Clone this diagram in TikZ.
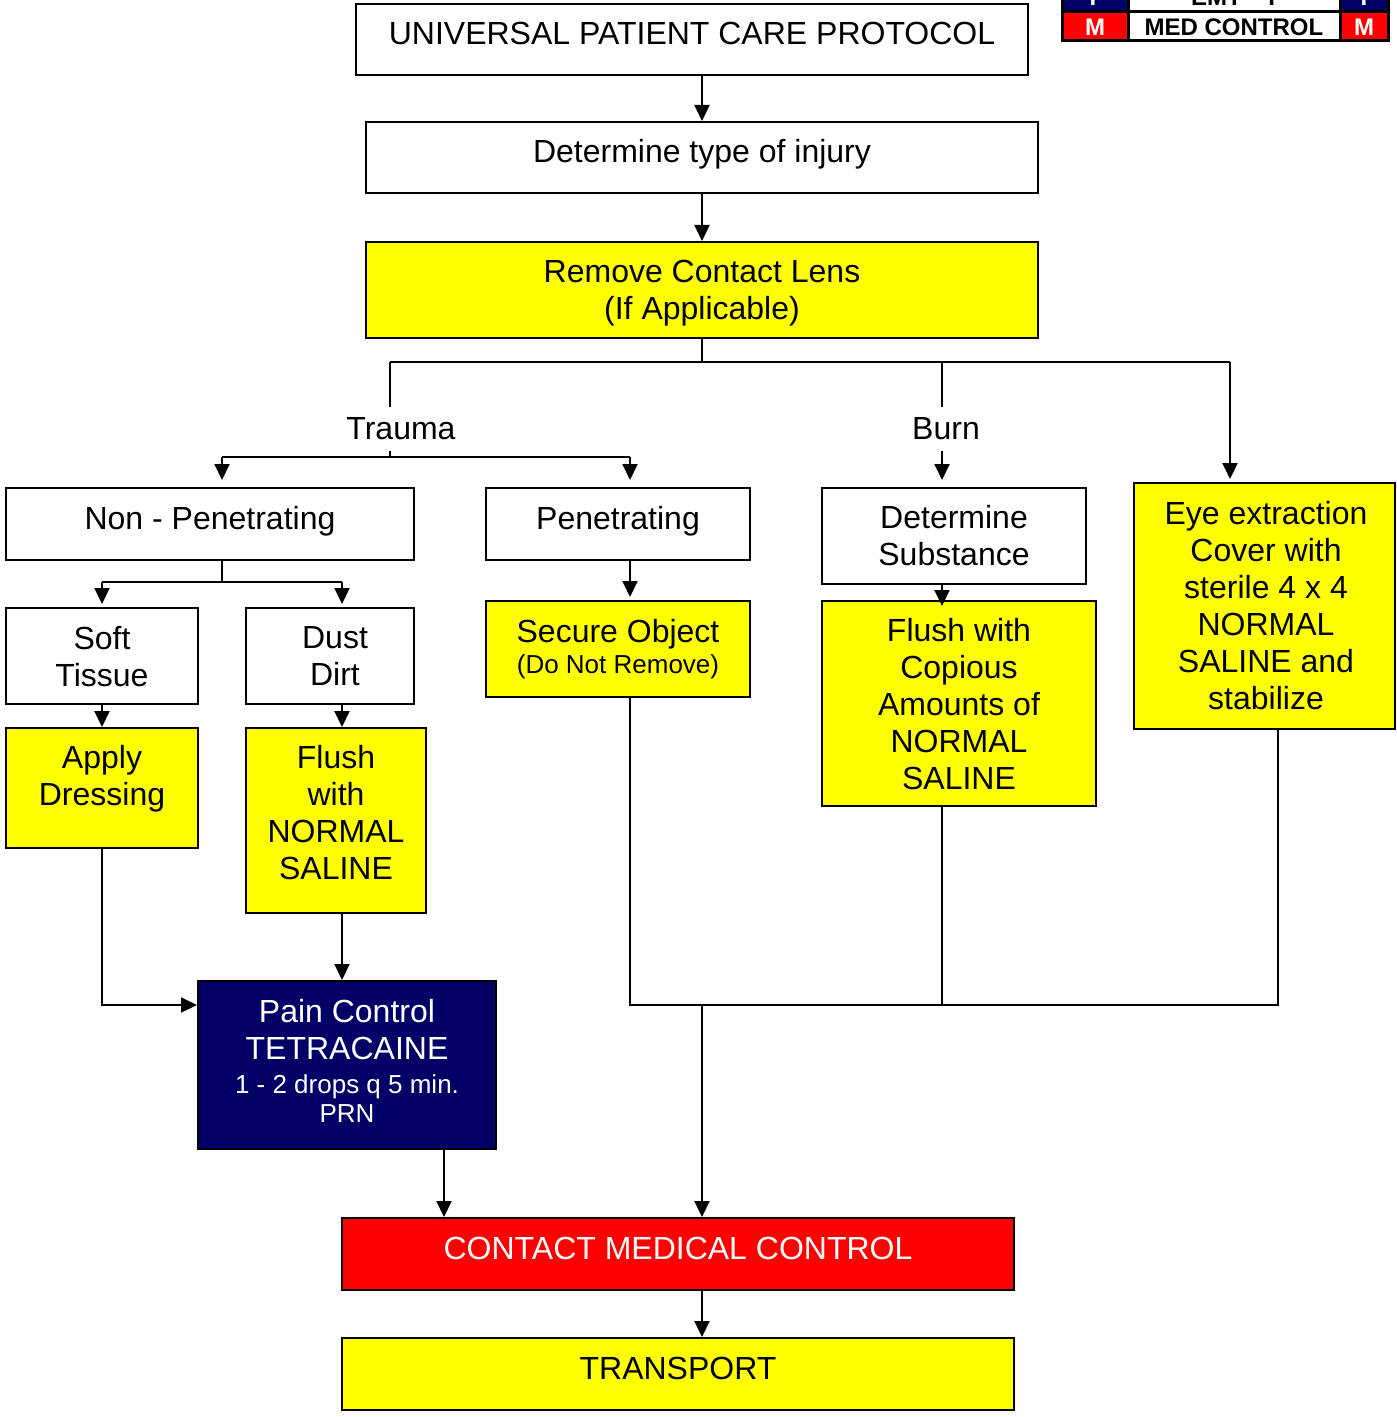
\documentclass[tikz,border=0pt]{standalone}
\usepackage{fontspec}
\setmainfont{Liberation Sans}
\usetikzlibrary{arrows.meta}
\definecolor{ybox}{RGB}{255,255,0}
\definecolor{navy}{RGB}{0,0,102}
\definecolor{rbox}{RGB}{255,0,0}
% name, box style, x1, y1, x2, y2, text style, text position, text
\newcommand{\bx}[9]{%
  \node[box,#2,minimum width={(#5-#3)*0.5},minimum height={(#6-#4)*0.5}] (#1) at ({(#3+#5)/2},{(#4+#6)/2}) {};
  \node[#7] (#1T) at #8 {#9};}
\begin{document}
\begin{tikzpicture}[x=0.5pt,y=-0.5pt,
  box/.style={draw=black,line width=1pt,inner sep=0pt},
  txt/.style={align=center,font=\fontsize{16}{18.5}\selectfont,inner sep=0pt},
  wtxt/.style={txt,text=white},
  ln/.style={line width=1pt},
  arr/.style={ln,-{Triangle[length=8pt,width=7.5pt]}},
  lab/.style={fill=white,font=\fontsize{16}{18.5}\selectfont,inner xsep=1pt,inner ysep=5pt},
  legt/.style={font=\fontsize{12}{14}\selectfont\bfseries,inner sep=0pt}]
\useasboundingbox (0,0) rectangle (1396,1417);
\clip (0,0) rectangle (1396,1417);

% legend
\bx{lgA}{fill=navy,line width=1.5pt}{1062}{-18}{1128}{12}{legt,text=white}{(1093,-3)}{I}
\bx{lgB}{fill=white,line width=1.5pt}{1128}{-18}{1340}{12}{legt}{(1233,-3)}{EMT -- I}
\bx{lgC}{fill=navy,line width=1.5pt}{1340}{-18}{1388}{12}{legt,text=white}{(1364,-3)}{I}
\bx{lgD}{fill=rbox,line width=1.5pt}{1062}{12}{1128}{41}{legt,text=white}{(1095,27)}{M}
\bx{lgE}{fill=white,line width=1.5pt}{1128}{12}{1340}{41}{legt}{(1234,27)}{MED CONTROL}
\bx{lgF}{fill=rbox,line width=1.5pt}{1340}{12}{1388}{41}{legt,text=white}{(1364,27)}{M}

% boxes
\bx{upcp}{fill=white}{356}{4}{1028}{75}{txt}{(692,33)}{UNIVERSAL PATIENT CARE PROTOCOL}
\bx{det}{fill=white}{366}{122}{1038}{193}{txt}{(702,154)}{Determine type of injury}
\bx{lens}{fill=ybox}{366}{242}{1038}{338}{txt}{(702,293)}{Remove Contact Lens\\(If Applicable)}
\bx{nonpen}{fill=white}{6}{488}{414}{560}{txt}{(210,521)}{Non - Penetrating}
\bx{pen}{fill=white}{486}{488}{750}{560}{txt}{(618,521)}{Penetrating}
\bx{detsub}{fill=white}{822}{488}{1086}{584}{txt}{(954,536)}{Determine\\Substance}
\bx{eye}{fill=ybox}{1134}{483}{1395}{729}{txt}{(1266,605.5)}{Eye extraction\\Cover with\\sterile 4 x 4\\NORMAL\\SALINE and\\stabilize}
\bx{soft}{fill=white}{6}{608}{198}{704}{txt}{(102,656.5)}{Soft\\Tissue}
\bx{dust}{fill=white}{246}{608}{414}{704}{txt}{(335,656.5)}{Dust\\Dirt}
\bx{secure}{fill=ybox}{486}{601}{750}{697}{txt}{(618,649)}{Secure Object\\[-3pt]{\fontsize{13}{15}\selectfont (Do Not Remove)}}
\bx{flushcop}{fill=ybox}{822}{601}{1096}{806}{txt}{(959,704.5)}{Flush with\\Copious\\Amounts of\\NORMAL\\SALINE}
\bx{apply}{fill=ybox}{6}{728}{198}{848}{txt}{(102,778.5)}{Apply\\Dressing}
\bx{flushns}{fill=ybox}{246}{728}{426}{913}{txt}{(336,813)}{Flush\\with\\NORMAL\\SALINE}
\bx{pain}{fill=navy}{198}{981}{496}{1149}{wtxt}{(347,1061)}{Pain Control\\TETRACAINE\\[-1.5pt]{\fontsize{13}{15}\selectfont 1 - 2 drops q 5 min.}\\[-4pt]{\fontsize{13}{15}\selectfont PRN}}
\bx{cmc}{fill=rbox}{342}{1218}{1014}{1290}{wtxt}{(678,1248)}{CONTACT MEDICAL CONTROL}
\bx{transport}{fill=ybox}{342}{1338}{1014}{1410}{txt}{(678,1368)}{TRANSPORT}

% branch labels
\node[lab] (trauma) at (401,429) {Trauma};
\node[lab] (burn) at (946,429) {Burn};

% junction coordinates
\coordinate (j1) at (702,362);
\coordinate (jT) at (390,362);
\coordinate (jB) at (942,362);
\coordinate (jE) at (1230,362);
\coordinate (t2) at (390,457);
\coordinate (tL) at (222,457);
\coordinate (tR) at (630,457);
\coordinate (np) at (222,582);
\coordinate (npL) at (102,582);
\coordinate (npR) at (342,582);
\coordinate (pl) at (102,1005);
\coordinate (pd) at (444,1149);
\coordinate (m1) at (630,1005);
\coordinate (mc) at (702,1005);
\coordinate (m3) at (1278,1005);

% connectors
\draw[arr] (upcp.south -| det.north) -- (det.north);
\draw[arr] (det.south) -- (lens.north);
\draw[ln] (lens.south) -- (j1);
\draw[ln] (jT) -- (jE);
\draw[ln] (jT) -- (jT |- trauma.north);
\draw[ln] (jT |- trauma.south) -- (t2);
\draw[ln] (tL) -- (tR);
\draw[arr,shorten >=3.5pt] (tL) -- (tL |- nonpen.north);
\draw[arr,shorten >=3.5pt] (tR) -- (tR |- pen.north);
\draw[ln] (jB) -- (jB |- burn.north);
\draw[arr,shorten >=3.5pt] (jB |- burn.south) -- (jB |- detsub.north);
\draw[arr,shorten >=1.5pt] (jE) -- (jE |- eye.north);
\draw[ln] (np |- nonpen.south) -- (np);
\draw[ln] (npL) -- (npR);
\draw[arr,shorten >=1.5pt] (npL) -- (npL |- soft.north);
\draw[arr,shorten >=1.5pt] (npR) -- (npR |- dust.north);
\draw[arr] (soft.south) -- (apply.north);
\draw[arr] (npR |- dust.south) -- (npR |- flushns.north);
\draw[arr,shorten >=1.5pt] (tR |- pen.south) -- (tR |- secure.north);
\draw[arr,shorten >=-3pt] (jB |- detsub.south) -- (jB |- flushcop.north);
\draw[arr] (apply.south) -- (pl) -- (pl -| pain.west);
\draw[arr] (npR |- flushns.south) -- (npR |- pain.north);
\draw[arr] (pd) -- (pd |- cmc.north);
\draw[ln] (tR |- secure.south) -- (m1) -- (m3) -- (m3 |- eye.south);
\draw[ln] (jB |- flushcop.south) -- (jB |- m1);
\draw[arr] (mc) -- (mc |- cmc.north);
\draw[arr] (mc |- cmc.south) -- (mc |- transport.north);
\end{tikzpicture}
\end{document}
